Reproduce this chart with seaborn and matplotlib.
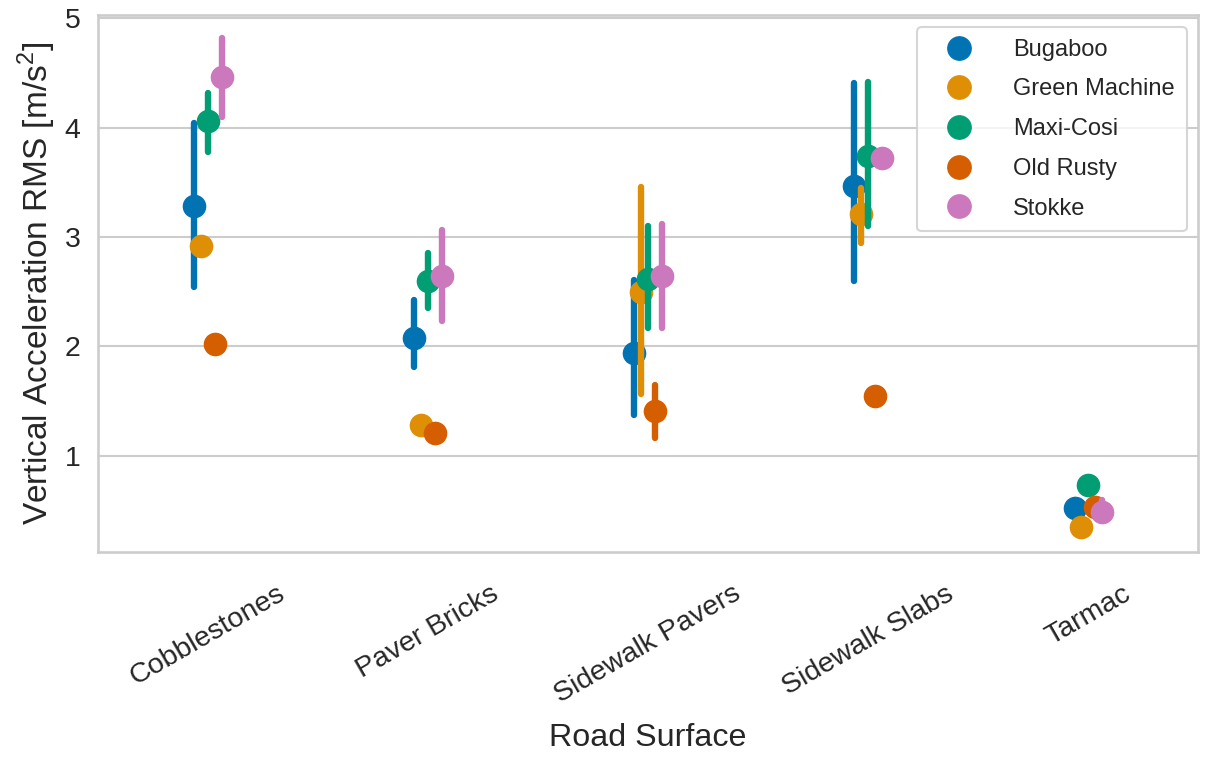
import numpy as np
import pandas as pd
import seaborn as sns
import matplotlib.pyplot as plt

# Estilo base de seaborn (contexto "talk")
sns.set_theme(style="whitegrid", context="talk")
plt.rcParams['font.family'] = ['Liberation Sans', 'DejaVu Sans']
plt.rcParams['mathtext.fontset'] = 'custom'
plt.rcParams['mathtext.rm'] = 'Liberation Sans'

# Datos
superficies = ['Cobblestones', 'Paver Bricks', 'Sidewalk Pavers', 'Sidewalk Slabs', 'Tarmac']
carritos = ['Bugaboo', 'Green Machine', 'Maxi-Cosi', 'Old Rusty', 'Stokke']

# valor central por carrito (una entrada por superficie)
media = {
    'Bugaboo':       [3.28, 2.08, 1.94, 3.47, 0.52],
    'Green Machine': [2.92, 1.28, 2.50, 3.21, 0.35],
    'Maxi-Cosi':     [4.06, 2.60, 2.62, 3.74, 0.73],
    'Old Rusty':     [2.02, 1.21, 1.41, 1.55, 0.53],
    'Stokke':        [4.46, 2.64, 2.64, 3.72, 0.48],
}
# extremos de las barras de error
bajo = {
    'Bugaboo':       [2.54, 1.81, 1.37, 2.60, 0.46],
    'Green Machine': [2.92, 1.28, 1.56, 2.95, 0.35],
    'Maxi-Cosi':     [3.78, 2.35, 2.17, 3.10, 0.73],
    'Old Rusty':     [2.02, 1.21, 1.16, 1.55, 0.50],
    'Stokke':        [4.10, 2.23, 2.17, 3.72, 0.44],
}
alto = {
    'Bugaboo':       [4.04, 2.42, 2.61, 4.41, 0.59],
    'Green Machine': [2.92, 1.28, 3.46, 3.45, 0.35],
    'Maxi-Cosi':     [4.32, 2.85, 3.10, 4.42, 0.73],
    'Old Rusty':     [2.02, 1.21, 1.65, 1.55, 0.58],
    'Stokke':        [4.82, 3.06, 3.12, 3.72, 0.59],
}

# Se arma la tabla larga: tres filas por grupo (bajo, central, alto)
filas = []
for c in carritos:
    for i, s in enumerate(superficies):
        for v in (bajo[c][i], media[c][i], alto[c][i]):
            filas.append({'surface': s, 'stroller': c, 'rms': v})
df = pd.DataFrame(filas)

fig, ax = plt.subplots(figsize=(12.08, 7.58), dpi=100)

sns.pointplot(data=df, x='surface', y='rms', hue='stroller',
              order=superficies, hue_order=carritos,
              estimator='median', errorbar=('pi', 100),
              dodge=True, linestyle='none', palette='colorblind',
              markersize=16, markeredgewidth=1,
              err_kws={'linewidth': 4.6, 'solid_capstyle': 'round'},
              ax=ax)

ax.set_ylim(0.12, 5.03)
ax.set_yticks([1, 2, 3, 4, 5])
ax.tick_params(labelsize=20.5)
ax.tick_params(axis='x', pad=12)
ax.set_xlabel('Road Surface', fontsize=23.2, labelpad=10)
ax.set_ylabel('Vertical Acceleration RMS [m/s$^{\\mathregular{2}}$]', fontsize=24, labelpad=5)
plt.setp(ax.get_xticklabels(), rotation=30, ha='center')

leg = ax.legend(loc='upper right', title=None, borderpad=0.5,
                handlelength=2.55, handletextpad=1.0, labelspacing=0.75,
                fontsize=17, markerscale=1.05)

fig.subplots_adjust(left=0.081, right=0.992, top=0.980, bottom=0.272)
plt.savefig('out.png')
